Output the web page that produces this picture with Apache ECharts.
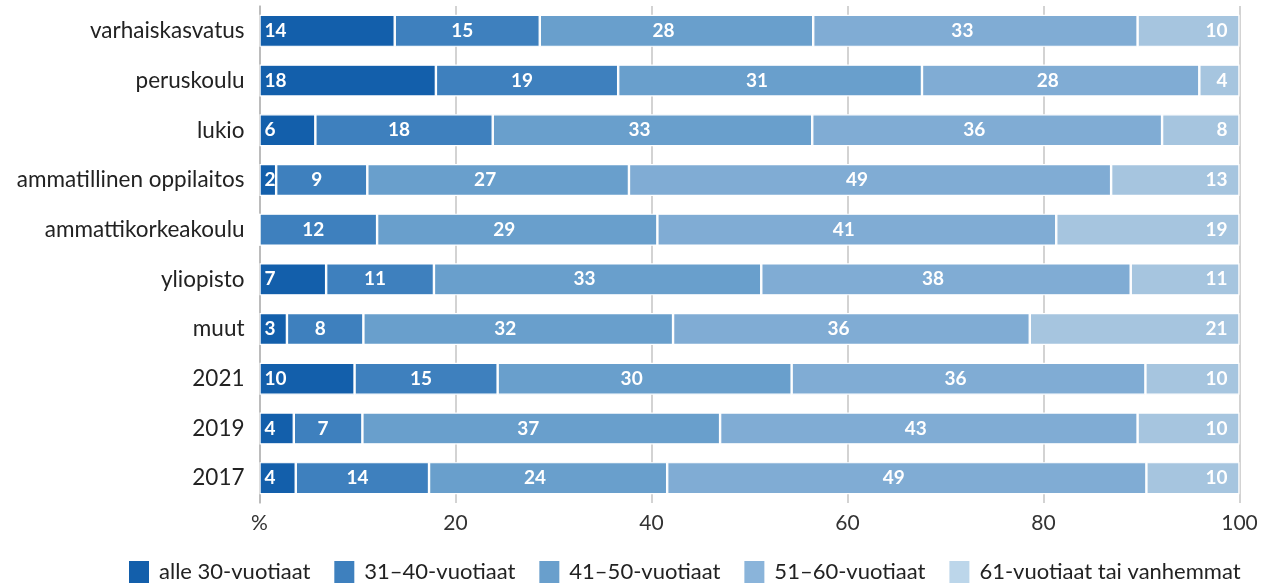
<!DOCTYPE html>
<html>
<head>
<meta charset="utf-8">
<script src="https://cdn.jsdelivr.net/npm/echarts@6/dist/echarts.min.js"></script>
<style>html,body{margin:0;padding:0;background:#fff}#c{width:1267px;height:585px}</style>
</head>
<body>
<div id="c"></div>
<script>
const categories = ['varhaiskasvatus','peruskoulu','lukio','ammatillinen oppilaitos','ammattikorkeakoulu','yliopisto','muut','2021','2019','2017'];
const seriesNames = ['alle 30-vuotiaat','31–40-vuotiaat','41–50-vuotiaat','51–60-vuotiaat','61-vuotiaat tai vanhemmat'];
const under30 = [13.8, 18.0, 5.7, 1.7, 0, 6.8, 2.8, 9.7, 3.5, 3.7];
const age31to40 = [14.8, 18.6, 18.1, 9.3, 12.0, 11.0, 7.8, 14.6, 7.0, 13.6];
const age41to50 = [27.9, 31.0, 32.6, 26.7, 28.6, 33.4, 31.6, 30.0, 36.5, 24.3];
const age51to60 = [33.1, 28.3, 35.7, 49.2, 40.7, 37.7, 36.4, 36.1, 42.6, 48.9];
const over60 = [10.4, 4.1, 7.9, 13.1, 18.7, 11.1, 21.4, 9.6, 10.4, 9.5];
const xTicks = {0: '%', 20: '20', 40: '40', 60: '60', 80: '80', 100: '100'};

const barColors = ['#135fab', '#3e80be', '#699fcc', '#80acd4', '#a6c5df'];
const legendColors = ['#135fab', '#3e80be', '#699fcc', '#8ab4da', '#bcd6ea'];
const allData = [under30, age31to40, age41to50, age51to60, over60];
const FONT = 'Lato, "Open Sans", sans-serif';

const labelCfg = [
  {position: 'insideLeft', distance: 5, offset: [0, 0]},
  {position: 'inside', offset: [-5, 0]},
  {position: 'inside', offset: [-13, 0]},
  {position: 'inside', offset: [-13, 0]},
  {position: 'insideRight', distance: 12, offset: [0, 0]}
];

const series = allData.map((d, i) => ({
  name: seriesNames[i],
  type: 'bar',
  stack: 'total',
  barWidth: 32,
  data: d,
  itemStyle: {color: barColors[i], borderColor: '#ffffff', borderWidth: 1.2},
  label: Object.assign({
    show: true,
    color: '#ffffff',
    fontFamily: FONT,
    fontWeight: 'bold',
    fontSize: 19,
    formatter: p => p.value > 0 ? String(Math.round(p.value)) : ''
  }, labelCfg[i]),
  emphasis: {disabled: true}
}));

const chart = echarts.init(document.getElementById('c'), null, {renderer: 'canvas'});
chart.setOption({
  animation: false,
  textStyle: {fontFamily: FONT},
  grid: {left: 259.5, right: 27.5, top: 6, bottom: 82, containLabel: false},
  legend: {
    left: 122, top: 554,
    itemWidth: 22, itemHeight: 24, itemGap: 22,
    icon: 'rect',
    textStyle: {fontSize: 22, color: '#222', fontFamily: FONT, padding: [0, 0, 0, 4]},
    data: seriesNames.map((n, i) => ({name: n, itemStyle: {color: legendColors[i]}}))
  },
  xAxis: {
    type: 'value', min: 0, max: 100, interval: 20,
    axisLine: {show: false}, axisTick: {show: false},
    splitLine: {show: true, lineStyle: {color: '#c4c4c4', width: 1.5}},
    axisLabel: {color: '#333', fontSize: 21, margin: 10, fontFamily: FONT, formatter: v => xTicks[v] !== undefined ? xTicks[v] : ''}
  },
  yAxis: {
    type: 'category', inverse: true, data: categories,
    axisLine: {show: true, lineStyle: {color: '#b5b5b5', width: 1.5}},
    axisTick: {show: false},
    axisLabel: {color: '#222', fontSize: 22.5, margin: 15, fontFamily: FONT}
  },
  series: series
});
</script>
</body>
</html>
